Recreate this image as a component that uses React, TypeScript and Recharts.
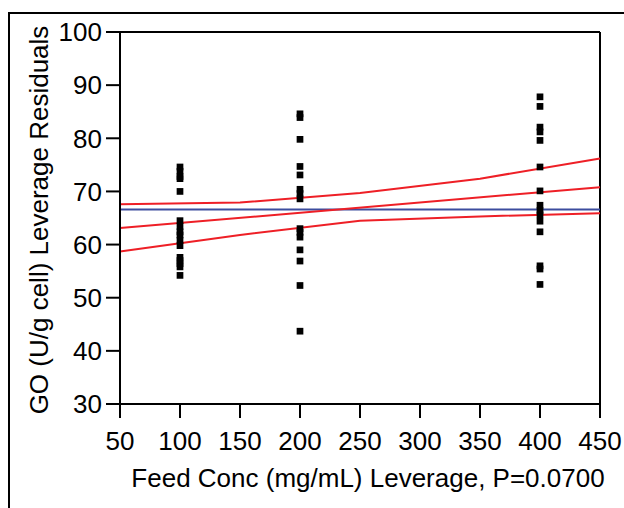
import {
  ComposedChart,
  Scatter,
  Line,
  XAxis,
  YAxis,
  ZAxis,
  ReferenceLine,
} from 'recharts';

// leverage residuals, grouped by feed concentration
const feed100 = [74.6, 73.8, 72.8, 72.4, 70.0, 64.5, 63.4, 62.4, 61.8, 60.8, 59.8, 57.6, 57.0, 56.4, 55.8, 54.2];
const feed200 = [84.6, 83.9, 79.8, 74.7, 73.1, 70.4, 69.6, 68.6, 63.0, 62.3, 61.4, 59.0, 56.9, 52.3, 43.7];
const feed400 = [87.8, 86.0, 82.1, 81.2, 79.6, 74.6, 70.1, 67.4, 66.4, 65.6, 64.4, 62.4, 56.0, 55.4, 52.5];

const curveX = [50, 150, 250, 350, 450];
const upperBand = [67.6, 67.9, 69.7, 72.4, 76.2];
const lowerBand = [58.7, 61.8, 64.5, 65.3, 65.9];
const fitEnds = [63.1, 70.8];
const meanLevel = 66.6;

const xTicks = [50, 100, 150, 200, 250, 300, 350, 400, 450];
const yTicks = [30, 40, 50, 60, 70, 80, 90, 100];

const xTitle = 'Feed Conc (mg/mL) Leverage, P=0.0700';
const yTitle = 'GO (U/g cell) Leverage Residuals';

const points = [
  ...feed100.map((y) => ({ x: 100, y })),
  ...feed200.map((y) => ({ x: 200, y })),
  ...feed400.map((y) => ({ x: 400, y })),
];
const upperData = curveX.map((x, i) => ({ x, y: upperBand[i] }));
const lowerData = curveX.map((x, i) => ({ x, y: lowerBand[i] }));
const fitData = [
  { x: 50, y: fitEnds[0] },
  { x: 450, y: fitEnds[1] },
];
const meanData = [
  { x: 50, y: meanLevel },
  { x: 450, y: meanLevel },
];

const font = '"Liberation Sans", Arial, sans-serif';
const FS = 26;
const RED = '#ee1f26';
const BLUE = '#3c4d9e';

export default function App() {
  // absolute so the 500px box doesn't push the page past 508 and add a scrollbar
  return (
    <div
      style={{
        position: 'absolute',
        left: 8,
        top: 8,
        width: 616,
        height: 500,
        overflow: 'hidden',
        fontFamily: font,
      }}
    >
      <div
        style={{
          position: 'absolute',
          left: 0,
          top: 4,
          width: 616,
          height: 496,
          borderTop: '2px solid #000',
          borderLeft: '2px solid #000',
        }}
      />
      <ComposedChart
        width={616}
        height={500}
        margin={{ top: 24, right: 24, left: 0, bottom: 0 }}
        style={{ position: 'absolute', left: 0, top: 0 }}
      >
        <XAxis
          type="number"
          dataKey="x"
          domain={[50, 450]}
          ticks={xTicks}
          height={104}
          tickSize={14}
          tickMargin={14}
          stroke="#000"
          strokeWidth={2}
          tick={{ fontSize: FS, fill: '#000', fontFamily: font }}
          label={{
            content: ({ viewBox }: any) => (
              <text
                x={viewBox.x + viewBox.width / 2 + 8}
                y={479}
                textAnchor="middle"
                fontSize={FS}
                fontFamily={font}
                fill="#000"
              >
                {xTitle}
              </text>
            ),
          }}
        />
        <YAxis
          type="number"
          dataKey="y"
          domain={[30, 100]}
          ticks={yTicks}
          width={112}
          tickSize={14}
          tickMargin={4}
          stroke="#000"
          strokeWidth={2}
          tick={{ fontSize: FS, fill: '#000', fontFamily: font }}
          label={{
            content: () => (
              <text
                x={31}
                y={212}
                dy="0.35em"
                transform="rotate(-90 31 212)"
                textAnchor="middle"
                fontSize={FS}
                fontFamily={font}
                fill="#000"
              >
                {yTitle}
              </text>
            ),
          }}
        />
        <ZAxis range={[45, 45]} />
        <ReferenceLine y={100} stroke="#000" strokeWidth={2} />
        <ReferenceLine x={450} stroke="#000" strokeWidth={2} />
        <Line data={meanData} dataKey="y" stroke={BLUE} strokeWidth={2} dot={false} isAnimationActive={false} />
        <Line data={upperData} dataKey="y" stroke={RED} strokeWidth={2} dot={false} isAnimationActive={false} />
        <Line data={fitData} dataKey="y" stroke={RED} strokeWidth={2} dot={false} isAnimationActive={false} />
        <Line data={lowerData} dataKey="y" stroke={RED} strokeWidth={2} dot={false} isAnimationActive={false} />
        <Scatter data={points} shape="square" fill="#000" isAnimationActive={false} />
      </ComposedChart>
    </div>
  );
}
